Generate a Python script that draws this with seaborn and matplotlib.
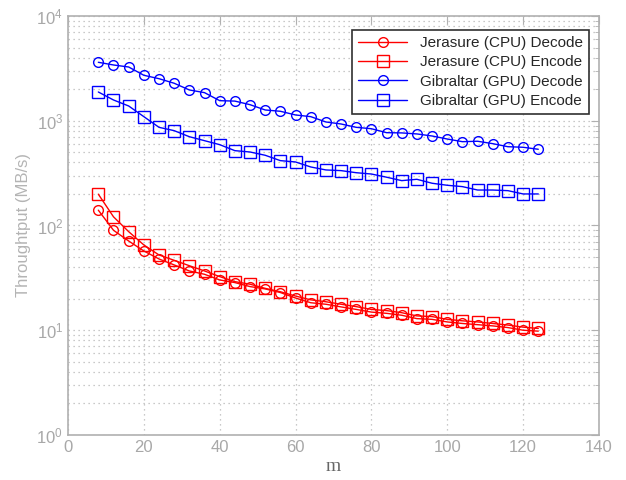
import numpy as np
import pandas as pd
import matplotlib
matplotlib.use("Agg")
import matplotlib.pyplot as plt
import seaborn as sns

# m values (x axis)
m_vals = list(range(8, 125, 4))

# throughput in MB/s
cpu_decode = [140, 90, 71.1, 57.1, 47.9, 42.0, 36.8, 34.2, 30.2, 28.5,
              26.1, 24.8, 22.9, 20.3, 18.3, 17.7, 16.7, 15.8, 14.9, 14.5,
              13.9, 12.9, 12.7, 12.0, 11.6, 11.3, 11.0, 10.6, 10.0, 9.8]
cpu_encode = [199, 121, 87.3, 65.2, 52.3, 46.5, 41.3, 36.8, 32.5, 29.1,
              27.5, 25.1, 23.3, 21.2, 19.5, 18.7, 17.7, 16.8, 15.8, 15.4,
              14.7, 13.7, 13.5, 12.7, 12.3, 12.0, 11.6, 11.2, 10.7, 10.4]
gpu_decode = [3614, 3406, 3258, 2716, 2520, 2279, 1967, 1854, 1554, 1540,
              1423, 1267, 1231, 1135, 1094, 973, 931, 865, 839, 769,
              765, 748, 715, 669, 631, 637, 604, 565, 558, 534]
gpu_encode = [1881, 1578, 1383, 1094, 865, 804, 704, 645, 591, 518,
              503, 468, 416, 404, 362, 339, 334, 319, 310, 289,
              268, 276, 253, 242, 235, 218, 218, 215, 200, 200]

series_names = ["Jerasure (CPU) Decode", "Jerasure (CPU) Encode",
                "Gibraltar (GPU) Decode", "Gibraltar (GPU) Encode"]
series_vals = [cpu_decode, cpu_encode, gpu_decode, gpu_encode]
colors = ["#ff0000", "#ff0000", "#0000ff", "#0000ff"]
markers = ["o", "s", "o", "s"]

df = pd.concat([pd.DataFrame({"m": m_vals, "tp": v, "series": n})
                for n, v in zip(series_names, series_vals)])

sns.set_style("white")
plt.rcParams['font.family'] = ['Liberation Sans', 'DejaVu Sans']

fig = plt.figure(figsize=(6.26, 4.80), dpi=100)
ax = fig.add_axes([0.1086, 0.0938, 0.8482, 0.8729])

for name, col, mk in zip(series_names, colors, markers):
    sns.lineplot(data=df[df["series"] == name], x="m", y="tp", ax=ax,
                 color=col, marker=mk, markersize=7 if mk == "o" else 8,
                 markerfacecolor="none", markeredgecolor=col,
                 markeredgewidth=1.0, linewidth=1.0, label=name)

ax.set_yscale("log")
ax.set_xlim(0, 140)
ax.set_ylim(1, 1e4)
ax.set_xticks(range(0, 141, 20))

grid_col = "#b8b8b8"
ax.grid(True, which="major", axis="both", linestyle=(0, (1, 3)), color=grid_col, linewidth=0.9)
ax.grid(True, which="minor", axis="y", linestyle=(0, (1, 3)), color=grid_col, linewidth=0.9)
ax.set_axisbelow(True)

spine_col = "#b0b0b0"
for s in ax.spines.values():
    s.set_color(spine_col)
    s.set_linewidth(1.2)
ax.tick_params(which="both", direction="in", top=True, right=True,
               colors=spine_col, labelcolor="#a8a8a8", labelsize=12)
ax.tick_params(which="major", length=6)
ax.tick_params(which="minor", length=3)

ax.set_xlabel("m", family="Liberation Serif", fontsize=14, color="#666666", labelpad=2)
ax.set_ylabel("Throughtput (MB/s)", fontsize=12, color="#b4b4b4", labelpad=4)

leg = ax.legend(loc="upper right", fontsize=11, frameon=True, fancybox=False,
                edgecolor="#303030", borderpad=0.4, labelspacing=0.35,
                handlelength=3.2, bbox_to_anchor=(0.995, 0.985))
leg.get_frame().set_linewidth(1.2)
leg.get_frame().set_alpha(1)

fig.savefig("out.png", dpi=100)
